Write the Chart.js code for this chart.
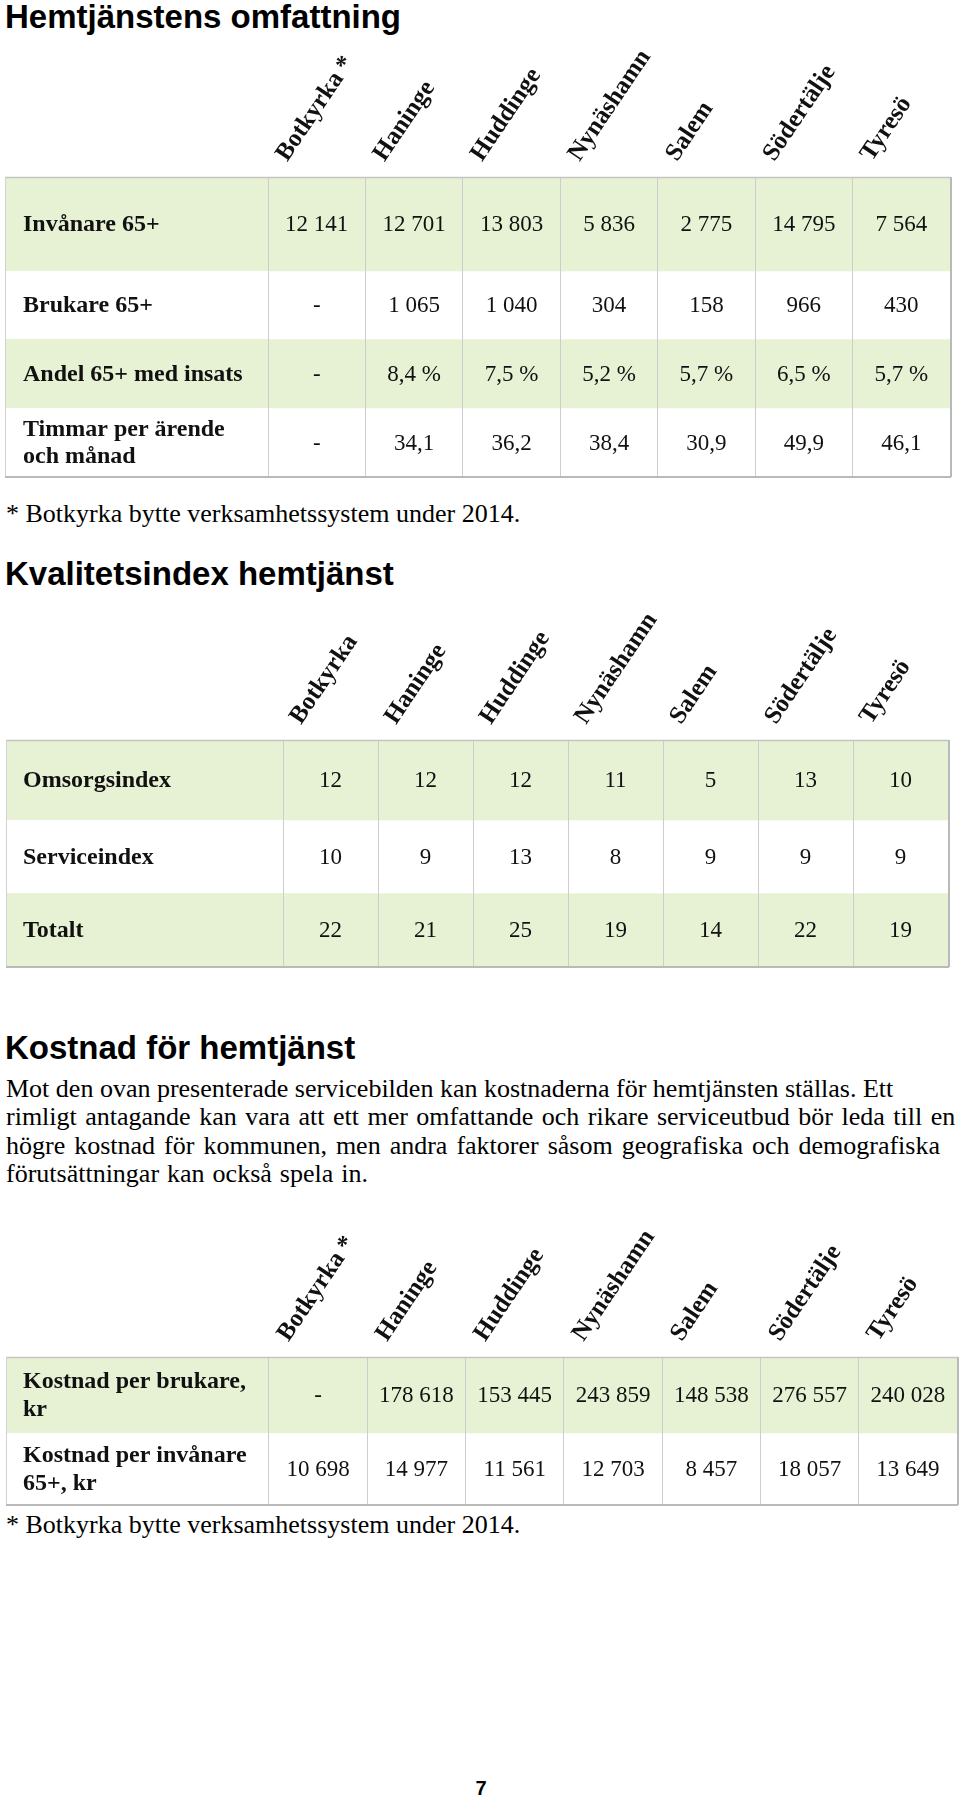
<!DOCTYPE html>
<html lang="sv">
<head>
<meta charset="utf-8">
<title>Hemtjänstens omfattning</title>
<script src="https://cdn.jsdelivr.net/npm/chart.js@4.4.1/dist/chart.umd.min.js"></script>
<style>
  html, body { margin: 0; padding: 0; background: #fff; }
  body { width: 960px; height: 1798px; position: relative; overflow: hidden; color: #000; }
  .rubrik { position: absolute; left: 5px; margin: 0; font: bold 33px/33px 'Liberation Sans', Arial, sans-serif; white-space: nowrap; }
  .text { position: absolute; left: 6px; margin: 0; font: 26px/28.3px 'Liberation Serif', 'Times New Roman', serif; white-space: nowrap; }
  .tabell { position: absolute; left: 0; width: 960px; }
  .sidnr { position: absolute; left: 470px; top: 1778px; width: 22px; text-align: center; font: bold 20px/20px 'Liberation Sans', Arial, sans-serif; }
</style>
</head>
<body>

<h1 class="rubrik" style="top:0px">Hemtjänstens omfattning</h1>
<div class="tabell" style="top:40px;height:441px"><canvas id="omfattning"></canvas></div>
<p class="text" style="top:500px">* Botkyrka bytte verksamhetssystem under 2014.</p>

<h2 class="rubrik" style="top:557px">Kvalitetsindex hemtjänst</h2>
<div class="tabell" style="top:600px;height:371px"><canvas id="kvalitet"></canvas></div>

<h2 class="rubrik" style="top:1031px">Kostnad för hemtjänst</h2>
<p class="text" style="top:1075px">Mot den ovan presenterade servicebilden kan kostnaderna för hemtjänsten ställas. Ett<br><span style="word-spacing:2px">rimligt antagande kan vara att ett mer omfattande och rikare serviceutbud bör leda till en</span><br><span style="word-spacing:2.5px">högre kostnad för kommunen, men andra faktorer såsom geografiska och demografiska</span><br><span style="word-spacing:1.5px">förutsättningar kan också spela in.</span></p>
<div class="tabell" style="top:1217px;height:292px"><canvas id="kostnad"></canvas></div>
<p class="text" style="top:1511px">* Botkyrka bytte verksamhetssystem under 2014.</p>

<div class="sidnr">7</div>

<script>
// --- Data ---
const kommunerStjarna = ['Botkyrka *', 'Haninge', 'Huddinge', 'Nynäshamn', 'Salem', 'Södertälje', 'Tyresö'];
const kommuner = ['Botkyrka', 'Haninge', 'Huddinge', 'Nynäshamn', 'Salem', 'Södertälje', 'Tyresö'];

// null = "-" (Botkyrka bytte system)
const invanare65 = [12141, 12701, 13803, 5836, 2775, 14795, 7564];
const brukare65 = [null, 1065, 1040, 304, 158, 966, 430];
const andelMedInsats = [null, 8.4, 7.5, 5.2, 5.7, 6.5, 5.7];
const timmarPerArende = [null, 34.1, 36.2, 38.4, 30.9, 49.9, 46.1];

const omsorgsindex = [12, 12, 12, 11, 5, 13, 10];
const serviceindex = [10, 9, 13, 8, 9, 9, 9];
const totaltIndex = [22, 21, 25, 19, 14, 22, 19];

const kostnadPerBrukare = [null, 178618, 153445, 243859, 148538, 276557, 240028];
const kostnadPerInvanare = [10698, 14977, 11561, 12703, 8457, 18057, 13649];

document.addEventListener('DOMContentLoaded', function() {

    const GREEN = '#e7f2d5';
    const SERIF = "'Liberation Serif', 'Times New Roman', serif";

    Chart.defaults.font.family = SERIF;
    Chart.defaults.color = '#111';

    // --- number formats (svenska) ---
    function fmtHeltal(v) {
        if (v == null) return '-';
        return String(Math.round(v)).replace(/\B(?=(\d{3})+(?!\d))/g, ' ');
    }
    function fmtDecimal(v) {
        if (v == null) return '-';
        return v.toFixed(1).replace('.', ',');
    }
    function fmtProcent(v) {
        if (v == null) return '-';
        return fmtDecimal(v) + ' %';
    }

    // --- plugin: row labels, label column, cell values, frame ---
    const tableDecor = {
        id: 'tableDecor',
        beforeDatasetsDraw(chart, args, opts) {
            const { ctx, chartArea, scales: { y } } = chart;
            ctx.save();
            chart.data.datasets.forEach(ds => {
                const top = y.getPixelForValue(ds.span[0]);
                const bottom = y.getPixelForValue(ds.span[1]);
                ctx.fillStyle = ds.backgroundColor;
                ctx.fillRect(opts.left, top, chartArea.left - opts.left, bottom - top);
            });
            ctx.restore();
        },
        afterDraw(chart, args, opts) {
            const { ctx, chartArea, scales: { y } } = chart;
            ctx.save();

            // row labels
            ctx.fillStyle = '#111';
            ctx.textAlign = 'left';
            ctx.textBaseline = 'middle';
            ctx.font = 'bold 24px ' + SERIF;
            chart.data.datasets.forEach(ds => {
                const mid = y.getPixelForValue((ds.span[0] + ds.span[1]) / 2);
                const lines = [].concat(ds.label);
                lines.forEach((line, k) => {
                    const dy = (k - (lines.length - 1) / 2) * 27.5;
                    ctx.fillText(line, opts.labelX, mid + dy + 1);
                });
            });

            // cell values
            ctx.textAlign = 'center';
            ctx.font = '23px ' + SERIF;
            chart.data.datasets.forEach((ds, i) => {
                chart.getDatasetMeta(i).data.forEach((bar, j) => {
                    ctx.fillText(ds.fmt(ds.values[j]), bar.x, (bar.y + bar.base) / 2 + 1);
                });
            });

            // frame
            ctx.strokeStyle = '#c4c4c4';
            ctx.lineWidth = 1.5;
            ctx.beginPath();
            ctx.moveTo(opts.left, chartArea.top + 0.5);
            ctx.lineTo(chartArea.right + 1, chartArea.top + 0.5);
            ctx.stroke();
            ctx.strokeStyle = '#d2d2d2';
            ctx.lineWidth = 1;
            ctx.beginPath();
            ctx.moveTo(opts.left + 0.5, chartArea.top);
            ctx.lineTo(opts.left + 0.5, chartArea.bottom);
            ctx.stroke();
            ctx.strokeStyle = '#b9b9b9';
            ctx.lineWidth = 2;
            ctx.beginPath();
            ctx.moveTo(opts.left, chartArea.bottom);
            ctx.lineTo(chartArea.right + 1, chartArea.bottom);
            ctx.moveTo(chartArea.right + 1, chartArea.top);
            ctx.lineTo(chartArea.right + 1, chartArea.bottom);
            ctx.stroke();

            ctx.restore();
        }
    };

    // --- table drawn as floating bars, one dataset per row ---
    function drawTable(canvasId, labels, rows, layout) {
        const ctx = document.getElementById(canvasId);
        if (!ctx) return;

        let pos = 0;
        const datasets = rows.map((row, i) => {
            const span = [pos, pos + layout.rowHeights[i]];
            pos += layout.rowHeights[i];
            return {
                label: row.label,
                data: labels.map(() => span),
                span: span,
                values: row.values,
                fmt: row.fmt,
                backgroundColor: i % 2 === 0 ? GREEN : '#ffffff',
                borderWidth: 0,
                grouped: false,
                barPercentage: 1,
                categoryPercentage: 1
            };
        });

        return new Chart(ctx, {
            type: 'bar',
            data: { labels: labels, datasets: datasets },
            plugins: [tableDecor],
            options: {
                responsive: true,
                maintainAspectRatio: false,
                animation: false,
                events: [],
                layout: {
                    autoPadding: false,
                    padding: { top: 0, left: layout.dataLeft, right: 960 - layout.dataRight, bottom: layout.bottomPad }
                },
                scales: {
                    x: {
                        type: 'category',
                        position: 'top',
                        offset: true,
                        border: { display: false },
                        grid: { offset: true, z: 1, color: '#cdcdcd', lineWidth: 1, drawTicks: false },
                        ticks: {
                            autoSkip: false,
                            minRotation: 56,
                            maxRotation: 56,
                            padding: 10,
                            labelOffset: -10,
                            color: '#111',
                            font: { family: SERIF, size: 25, weight: 'bold' }
                        },
                        afterFit(scale) {
                            scale.height = layout.headerHeight;
                            scale.paddingLeft = 0;
                            scale.paddingRight = 0;
                        }
                    },
                    y: {
                        type: 'linear',
                        display: false,
                        reverse: true,
                        min: 0,
                        max: pos
                    }
                },
                plugins: {
                    legend: { display: false },
                    tooltip: { enabled: false },
                    tableDecor: { left: layout.tableLeft, labelX: 23 }
                }
            }
        });
    }

    // --- Hemtjänstens omfattning ---
    drawTable('omfattning', kommunerStjarna, [
        { label: 'Invånare 65+', values: invanare65, fmt: fmtHeltal },
        { label: 'Brukare 65+', values: brukare65, fmt: fmtHeltal },
        { label: 'Andel 65+ med insats', values: andelMedInsats, fmt: fmtProcent },
        { label: ['Timmar per ärende', 'och månad'], values: timmarPerArende, fmt: fmtDecimal }
    ], { tableLeft: 5, dataLeft: 268, dataRight: 950, headerHeight: 137, bottomPad: 4, rowHeights: [94, 68, 69, 69] });

    // --- Kvalitetsindex hemtjänst ---
    drawTable('kvalitet', kommuner, [
        { label: 'Omsorgsindex', values: omsorgsindex, fmt: fmtHeltal },
        { label: 'Serviceindex', values: serviceindex, fmt: fmtHeltal },
        { label: 'Totalt', values: totaltIndex, fmt: fmtHeltal }
    ], { tableLeft: 6, dataLeft: 283, dataRight: 948, headerHeight: 140, bottomPad: 4, rowHeights: [80, 73, 74] });

    // --- Kostnad för hemtjänst ---
    drawTable('kostnad', kommunerStjarna, [
        { label: ['Kostnad per brukare,', 'kr'], values: kostnadPerBrukare, fmt: fmtHeltal },
        { label: ['Kostnad per invånare', '65+, kr'], values: kostnadPerInvanare, fmt: fmtHeltal }
    ], { tableLeft: 6, dataLeft: 269, dataRight: 957, headerHeight: 140, bottomPad: 4, rowHeights: [76, 72] });
});
</script>
</body>
</html>
